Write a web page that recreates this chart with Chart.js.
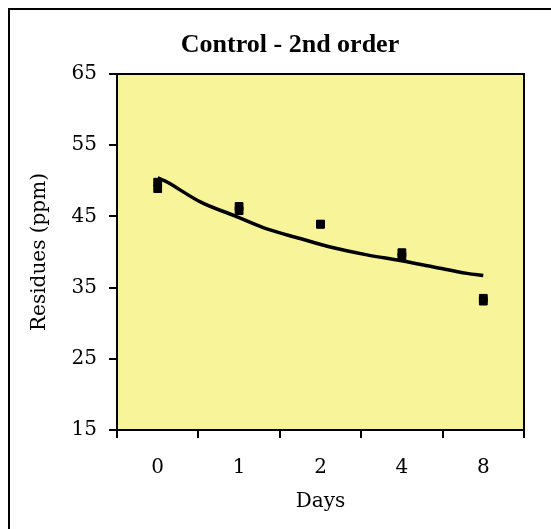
<!DOCTYPE html>
<html>
<head>
<meta charset="utf-8">
<script src="https://cdn.jsdelivr.net/npm/chart.js@4"></script>
<style>
  html, body { margin: 0; padding: 0; background: #fff; }
  #wrap { position: absolute; left: 0; top: 0; width: 551px; height: 529px; }
</style>
</head>
<body>
<div id="wrap"><canvas id="chart"></canvas></div>
<script>
// categories on the x axis (days)
const days = ['0', '1', '2', '4', '8'];

// measured residues, two replicates (ppm)
const repA = [49.8, 46.4, 43.9, 39.9, 33.5];
const repB = [48.9, 45.8, 43.9, 39.35, 33.1];
// small navy markers visible at the first two days
const meanPts = [49.9, 45.5, null, null, null];

// fitted 2nd order curve (x = category position)
const fitX = [0, 0.12, 0.53, 0.94, 1.35, 1.75, 2.12, 2.57, 2.98, 3.39, 3.8, 4.0];
const fitY = [50.4, 49.8, 47.0, 45.1, 43.2, 41.9, 40.7, 39.6, 38.8, 37.9, 37.0, 36.7];

const yTicks = [15, 25, 35, 45, 55, 65];

const chartTitle = 'Control - 2nd order';

const serif = '"Liberation Serif", "Times New Roman", serif';
const wideSerif = '"DejaVu Serif", serif';

const plotBg = {
    id: 'plotBg',
    beforeDraw(chart) {
        const { ctx, chartArea: a } = chart;
        ctx.save();
        ctx.fillStyle = '#fff';
        ctx.fillRect(0, 0, chart.width, chart.height);
        // outer frame
        ctx.strokeStyle = '#000';
        ctx.lineWidth = 2;
        ctx.strokeRect(9, 9, 600, 600);
        ctx.fillStyle = '#f8f49a';
        ctx.fillRect(a.left, a.top, a.right - a.left, a.bottom - a.top);
        // title sits a bit left of the plot centre in the original
        ctx.fillStyle = '#000';
        ctx.font = 'bold 26px ' + serif;
        ctx.textAlign = 'center';
        ctx.textBaseline = 'middle';
        ctx.fillText(chartTitle, 290, 45);
        ctx.restore();
    },
    afterDatasetsDraw(chart) {
        const { ctx, chartArea: a } = chart;
        ctx.save();
        ctx.strokeStyle = '#000';
        ctx.lineWidth = 2;
        ctx.strokeRect(a.left, a.top, a.right - a.left, a.bottom - a.top);
        ctx.restore();
    }
};

new Chart(document.getElementById('chart'), {
    type: 'line',
    data: {
        labels: days,
        datasets: [
            {
                label: 'fit',
                xAxisID: 'xl',
                data: fitX.map((x, i) => ({ x: x, y: fitY[i] })),
                borderColor: '#000',
                borderWidth: 3.5,
                tension: 0.35,
                pointRadius: 0,
                fill: false
            },
            {
                label: 'rep A',
                data: repA,
                showLine: false,
                pointStyle: 'rect',
                pointRadius: 5.5,
                backgroundColor: '#000',
                borderColor: '#000',
                borderWidth: 1
            },
            {
                label: 'rep B',
                data: repB,
                showLine: false,
                pointStyle: 'rect',
                pointRadius: 5.5,
                backgroundColor: '#000',
                borderColor: '#000',
                borderWidth: 1
            },
            {
                label: 'mean',
                data: meanPts,
                showLine: false,
                pointRadius: 2,
                backgroundColor: '#1c1c70',
                borderColor: '#1c1c70',
                borderWidth: 0
            }
        ]
    },
    options: {
        responsive: true,
        maintainAspectRatio: false,
        animation: false,
        layout: { padding: { left: 10, right: 27, top: 74, bottom: 0 } },
        plugins: {
            legend: { display: false },
            tooltip: { enabled: false },
            title: { display: false }
        },
        scales: {
            x: {
                type: 'category',
                offset: true,
                grid: { offset: true, drawOnChartArea: false, color: '#000', lineWidth: 2, tickLength: 8 },
                border: { display: true, color: '#000', width: 2 },
                ticks: { color: '#000', padding: 18, font: { family: wideSerif, size: 20 } },
                title: {
                    display: true,
                    text: 'Days',
                    color: '#000',
                    font: { family: wideSerif, size: 20 },
                    padding: { top: 0, bottom: 15 }
                },
                afterFit(scale) { scale.height = 99; }
            },
            xl: {
                type: 'linear',
                display: false,
                min: -0.5,
                max: 4.5
            },
            y: {
                min: 15,
                max: 65,
                afterBuildTicks(scale) { scale.ticks = yTicks.map(v => ({ value: v })); },
                grid: { drawOnChartArea: false, color: '#000', lineWidth: 2, tickLength: 8 },
                border: { display: true, color: '#000', width: 2 },
                ticks: { color: '#000', padding: 12, font: { family: wideSerif, size: 20 } },
                title: {
                    display: true,
                    text: 'Residues (ppm)',
                    color: '#000',
                    font: { family: wideSerif, size: 20 },
                    padding: { top: 18, bottom: 0 }
                },
                afterFit(scale) { scale.width = 107; }
            }
        }
    },
    plugins: [plotBg]
});
</script>
</body>
</html>
